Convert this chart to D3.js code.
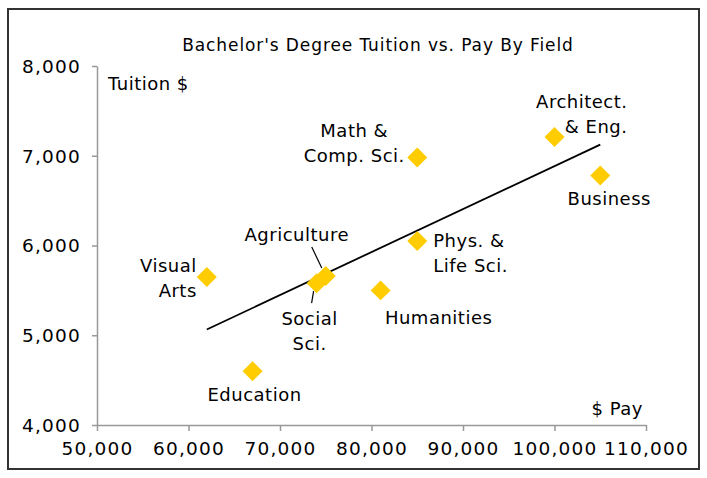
<!DOCTYPE html>
<html><head><meta charset="utf-8">
<script src="https://cdn.jsdelivr.net/npm/d3@7"></script>
<style>
html,body{margin:0;padding:0;background:#fff;}
svg text{font-family:"DejaVu Sans", sans-serif;fill:#000;}
</style></head>
<body><svg id="c" width="707" height="478"></svg>
<script>
const fields = ["Visual Arts","Education","Social Sci.","Agriculture","Humanities","Phys. & Life Sci.","Math & Comp. Sci.","Architect. & Eng.","Business"];
const pay = [62000, 67000, 74000, 75000, 81000, 85000, 85000, 100000, 105000];
const tuition = [5650, 4600, 5580, 5660, 5500, 6050, 6980, 7210, 6780];
const xTicks = [50000,60000,70000,80000,90000,100000,110000];
const yTicks = [4000,5000,6000,7000,8000];
const title = "Bachelor's Degree Tuition vs. Pay By Field";

const svg = d3.select("#c");
const fs = 18, ls = "0.5px";
svg.append("rect").attr("x",8).attr("y",9).attr("width",691).attr("height",460)
  .attr("fill","#fff").attr("stroke","#333").attr("stroke-width",2);

const x = d3.scaleLinear().domain([50000,110000]).range([97,646]);
const y = d3.scaleLinear().domain([4000,8000]).range([425,66]);
const fmt = d3.format(",");

const gx = svg.append("g").attr("transform","translate(0,425)")
  .call(d3.axisBottom(x).tickValues(xTicks).tickFormat(fmt).tickSize(6).tickSizeOuter(0));
const gy = svg.append("g").attr("transform","translate(97,0)")
  .call(d3.axisLeft(y).tickValues(yTicks).tickFormat(fmt).tickSize(5).tickSizeOuter(0));
[gx,gy].forEach(g=>{
  g.selectAll("path,line").attr("stroke","#999").attr("stroke-width",1.5);
  g.selectAll("text").style("font-size","18.5px").style("font-family","'DejaVu Sans', sans-serif")
    .style("letter-spacing","1.2px").attr("fill","#000");
});
gx.selectAll("text").attr("dy","0").attr("y",30);
gy.selectAll("text").attr("x",-16).attr("dy","0.35em");

// trendline (least squares)
const n = pay.length;
const mx = d3.mean(pay), my = d3.mean(tuition);
let sxy=0,sxx=0;
for(let i=0;i<n;i++){sxy+=(pay[i]-mx)*(tuition[i]-my);sxx+=(pay[i]-mx)**2;}
const b = sxy/sxx, a = my - b*mx;
const x0 = d3.min(pay), x1 = d3.max(pay);
svg.append("line").attr("x1",x(x0)).attr("y1",y(a+b*x0)).attr("x2",x(x1)).attr("y2",y(a+b*x1))
  .attr("stroke","#000").attr("stroke-width",1.8);

// points
svg.append("g").selectAll("path").data(pay).join("path")
  .attr("d",d3.symbol(d3.symbolSquare,200))
  .attr("transform",(d,i)=>`translate(${x(d)},${y(tuition[i])}) rotate(45)`)
  .attr("fill","#FFCC00");

// labels
const lbl = [
  {lines:["Visual","Arts"], dx:-10, dy:-5, anchor:"end"},
  {lines:["Education"], dx:2, dy:30, anchor:"middle"},
  {lines:["Social","Sci."], dx:-7, dy:42, anchor:"middle"},
  {lines:["Agriculture"], dx:-29, dy:-35, anchor:"middle"},
  {lines:["Humanities"], dx:58, dy:34, anchor:"middle"},
  {lines:["Phys. &","Life Sci."], dx:16, dy:6, anchor:"start"},
  {lines:["Math &","Comp. Sci."], dx:-63, dy:-21, anchor:"middle"},
  {lines:["Architect.","& Eng."], dx:73, dy:-29, anchor:"end"},
  {lines:["Business"], dx:9, dy:30, anchor:"middle"}
];
const lg = svg.append("g");
lbl.forEach((l,i)=>{
  const t = lg.append("text").attr("text-anchor",l.anchor).style("font-size",fs+"px").style("letter-spacing",ls);
  l.lines.forEach((s,k)=>{
    t.append("tspan").attr("x",x(pay[i])+l.dx).attr("y",y(tuition[i])+l.dy+k*25).text(s);
  });
});
// leader lines
const ia = fields.indexOf("Agriculture"), is = fields.indexOf("Social Sci.");
svg.append("line").attr("x1",x(pay[ia])-14).attr("y1",y(tuition[ia])-29).attr("x2",x(pay[ia])-4).attr("y2",y(tuition[ia])-8)
  .attr("stroke","#000").attr("stroke-width",1.2);
svg.append("line").attr("x1",x(pay[is])-3).attr("y1",y(tuition[is])+8).attr("x2",x(pay[is])-5).attr("y2",y(tuition[is])+20)
  .attr("stroke","#000").attr("stroke-width",1.2);

svg.append("text").attr("x",378).attr("y",51).attr("text-anchor","middle").style("font-size","17px").style("letter-spacing","0.9px").text(title);
svg.append("text").attr("x",108).attr("y",90).style("font-size",fs+"px").style("letter-spacing",ls).text("Tuition $");
svg.append("text").attr("x",643).attr("y",415).attr("text-anchor","end").style("font-size",fs+"px").style("letter-spacing",ls).text("$ Pay");
</script></body></html>
